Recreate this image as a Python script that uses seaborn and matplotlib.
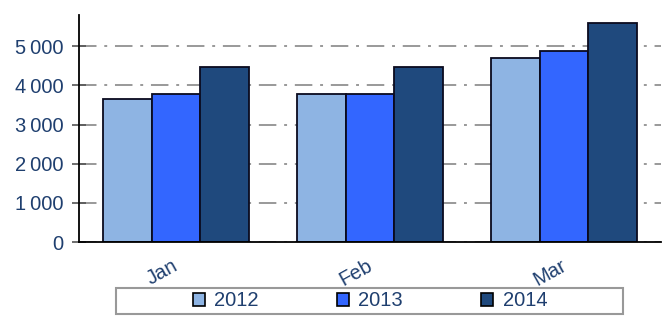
import matplotlib
matplotlib.use("Agg")
import matplotlib.pyplot as plt
import matplotlib.transforms as mtrans
import seaborn as sns
import pandas as pd
from matplotlib.patches import Rectangle, Patch
from matplotlib.ticker import FixedLocator

months = ["Jan", "Feb", "Mar"]
years = ["2012", "2013", "2014"]
v2012 = [3650, 3780, 4700]
v2013 = [3780, 3780, 4870]
v2014 = [4470, 4470, 5600]
yticks = [0, 1000, 2000, 3000, 4000, 5000]
colors = ["#8EB4E3", "#3366FF", "#1F497D"]

rows = []
for y, vals in zip(years, [v2012, v2013, v2014]):
    for m, v in zip(months, vals):
        rows.append({"month": m, "year": y, "value": v})
df = pd.DataFrame(rows)

sns.set_style("white")
plt.rcParams['font.family'] = ['Liberation Sans', 'DejaVu Sans']
txt = "#1F3F6F"
fs = 14.5

fig = plt.figure(figsize=(6.67, 3.29), dpi=100)
ax = fig.add_axes([79/667, 1-242/329, (661-79)/667, (242-15)/329])
sns.barplot(data=df, x="month", y="value", hue="year", palette=colors,
            width=0.75, edgecolor="#0a0a1e", linewidth=1.3, ax=ax,
            legend=False, saturation=1)
ax.set_xlim(-0.5, 2.5)
ax.set_ylim(0, 5800)
ax.yaxis.set_major_locator(FixedLocator(yticks))
ax.set_yticklabels([f"{t:,}".replace(",", "\u2009") for t in yticks],
                   color=txt, fontsize=fs)
ax.set_xlabel("")
ax.set_ylabel("")
ax.set_xticks(range(3))
ax.set_xticklabels(months, rotation=29, ha="right", rotation_mode="anchor",
                   color=txt, fontsize=fs)
ax.tick_params(axis="x", length=0, pad=10)
shift = mtrans.ScaledTranslation(-4/100, 0, fig.dpi_scale_trans)
for lab in ax.get_xticklabels():
    lab.set_transform(lab.get_transform() + shift)
ax.tick_params(axis="y", direction="inout", length=10, width=1.2,
               color="#555555", pad=6, left=True)
ax.set_axisbelow(True)
ax.yaxis.grid(True, color="#999999", linewidth=1.4, linestyle=(0, (9, 4, 1.5, 4)))
ax.xaxis.grid(False)
for s in ["top", "right"]:
    ax.spines[s].set_visible(False)
for s in ["left", "bottom"]:
    ax.spines[s].set_color("black")
    ax.spines[s].set_linewidth(1.3)

# legend
fig.patches.append(Rectangle((116/667, 1-314/329), (623-116)/667, 26/329,
                             transform=fig.transFigure, fill=False,
                             edgecolor="#999999", linewidth=1.5))
handles = [Patch(facecolor=c, edgecolor="black", linewidth=1.2) for c in colors]
fig.legend(handles, years, loc="center", bbox_to_anchor=(370/667, 1-301/329),
           ncol=3, frameon=False, fontsize=fs, labelcolor=txt,
           handlelength=0.6, handleheight=0.6, handletextpad=0.45,
           columnspacing=3.9)

fig.savefig("out.png", dpi=100)
